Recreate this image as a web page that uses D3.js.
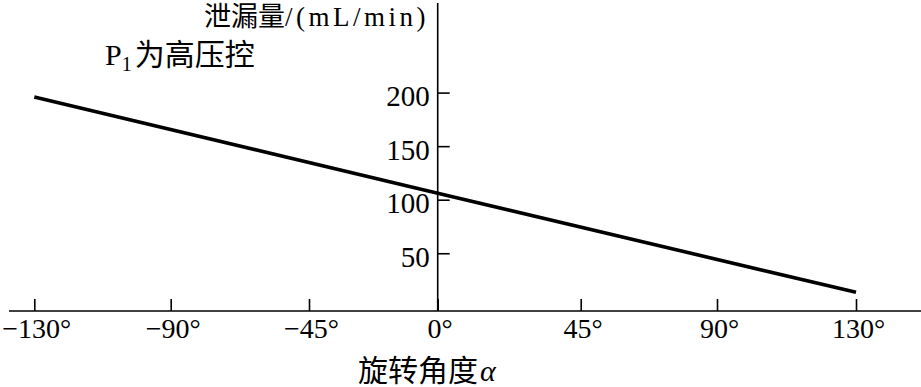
<!DOCTYPE html>
<html>
<head>
<meta charset="utf-8">
<script src="https://cdn.jsdelivr.net/npm/d3@7"></script>
<style>
    body { margin: 0; background: #fff; }
    svg { display: block; }
</style>
</head>
<body>
<script>
// x categories (rotation angle, degrees) and their tick labels
const angles      = [-130, -90, -45, 0, 45, 90, 130];
const angleLabels = ["\u2212130°", "\u221290°", "\u221245°", "0°", "45°", "90°", "130°"];

// y ticks (leakage, mL/min)
const leakTicks = [50, 100, 150, 200];

// the one series: leakage vs. angle, P1 high pressure
const lineAngles = [-130, 0, 130];
const leakValues = [196, 106, 13.5];

const width  = 921;
const height = 387;
const serif  = "'Liberation Serif', 'Times New Roman', 'Noto Sans CJK SC', serif";

const svg = d3.select("body")
    .append("svg")
    .attr("width", width)
    .attr("height", height)
    .style("font-family", serif);

///////////////
/// Scales ///
///////////////

// the drawing is schematic: tick spacing is not strictly proportional
const x = d3.scaleLinear()
    .domain(angles)
    .range([34.3, 170.7, 309, 437.7, 580.7, 717, 856]);

const y = d3.scaleLinear()
    .domain([0, 200])
    .range([306.8, 92.6]);

const axisY = 311;        // baseline of the x axis
const axisX = x(0);       // the y axis sits on 0°

////////////
/// Axes ///
////////////

svg.append("line")
    .attr("x1", 9).attr("x2", width)
    .attr("y1", axisY).attr("y2", axisY)
    .attr("stroke", "#000").attr("stroke-width", 1.6);

svg.append("line")
    .attr("x1", axisX).attr("x2", axisX)
    .attr("y1", 3).attr("y2", axisY)
    .attr("stroke", "#000").attr("stroke-width", 1.6);

const xAxis = svg.append("g")
    .attr("transform", "translate(0," + axisY + ")")
    .call(d3.axisBottom(x)
        .tickValues(angles)
        .tickFormat((d, i) => angleLabels[i])
        .tickSizeInner(-12)
        .tickSizeOuter(0)
        .tickPadding(7));
xAxis.select(".domain").remove();
xAxis.selectAll(".tick line").attr("stroke-width", 1.6);
xAxis.selectAll(".tick text")
    .attr("font-size", 28)
    .attr("font-family", serif)
    .attr("dx", 2)
    .attr("fill", "#000");

const yAxis = svg.append("g")
    .attr("transform", "translate(" + axisX + ",0)")
    .call(d3.axisLeft(y)
        .tickValues(leakTicks)
        .tickSizeInner(-12)
        .tickSizeOuter(0)
        .tickPadding(8));
yAxis.select(".domain").remove();
yAxis.selectAll(".tick line").attr("stroke-width", 1.6);
yAxis.selectAll(".tick text")
    .attr("font-size", 29)
    .attr("font-family", serif)
    .attr("dy", "0.45em")
    .attr("fill", "#000");

//////////////
/// Series ///
//////////////

const points = lineAngles.map((a, i) => ({a: a, v: leakValues[i]}));

svg.append("path")
    .datum(points)
    .attr("fill", "none")
    .attr("stroke", "#000")
    .attr("stroke-width", 3.6)
    .attr("d", d3.line().x(d => x(d.a)).y(d => y(d.v)));

//////////////
/// Labels ///
//////////////

const title = svg.append("text")
    .attr("x", 429)
    .attr("y", 26)
    .attr("text-anchor", "end")
    .attr("font-size", 27);
title.append("tspan").text("泄漏量");
title.append("tspan").attr("letter-spacing", "3.5px").text("/(mL/min)");

const note = svg.append("text")
    .attr("x", 105)
    .attr("y", 65)
    .attr("font-size", 30);
note.append("tspan").text("P");
note.append("tspan").attr("font-size", 20).attr("dy", 6).text("1");
note.append("tspan").attr("dy", -6).attr("dx", 3).text("为高压控");

const xLabel = svg.append("text")
    .attr("x", 358)
    .attr("y", 381)
    .attr("font-size", 30);
xLabel.append("tspan").text("旋转角度");
xLabel.append("tspan").attr("font-style", "italic").attr("dx", 2).text("α");
</script>
</body>
</html>
